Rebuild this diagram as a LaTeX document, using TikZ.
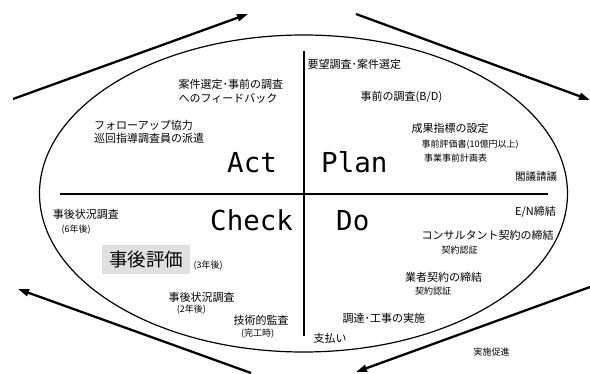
\documentclass[tikz,border=0pt]{standalone}
\usepackage{fontspec}
\newfontfamily\jpfont{Noto Sans CJK JP}
\newfontfamily\bigfont{DejaVu Sans Mono}
\usetikzlibrary{shapes.geometric,arrows.meta}
\definecolor{boxgray}{HTML}{E0E0E0}
\tikzset{
  jt/.style={font=\jpfont\fontsize{11}{13}\selectfont, inner sep=0pt, anchor=west},
  js/.style={font=\jpfont\fontsize{9}{11}\selectfont, inner sep=0pt, anchor=west},
  pdca/.style={font=\bigfont\fontsize{27.5}{30}\selectfont, inner sep=0pt, anchor=base west},
  flow/.style={line width=2.3pt, -{Triangle[length=11pt,width=7pt]}},
  axis/.style={line width=1.4pt},
  cyc/.style={draw, ellipse, line width=1.2pt, minimum width=528pt, minimum height=317pt, inner sep=0pt}
}
\begin{document}
\begin{tikzpicture}[x=1pt,y=-1pt]
\useasboundingbox (0,0) rectangle (590,374);
% cycle ellipse
\node[cyc] (cycle) at (303.5,193.5) {};
% axes
\coordinate (vt) at (304,51);
\coordinate (vb) at (304,336);
\coordinate (hl) at (60,194);
\coordinate (hr) at (548,194);
\draw[axis] (vt) -- (vb);
\draw[axis] (hl) -- (hr);
% outer arrows
\coordinate (a1s) at (13,99);
\coordinate (a1e) at (248,14);
\coordinate (a2s) at (356,14);
\coordinate (a2e) at (590,100);
\coordinate (a3s) at (590,287);
\coordinate (a3e) at (356,372);
\coordinate (a4s) at (251,373);
\coordinate (a4e) at (18,289);
\draw[flow] (a1s) -- (a1e);
\draw[flow] (a2s) -- (a2e);
\draw[flow] (a3s) -- (a3e);
\draw[flow] (a4s) -- (a4e);
% PDCA labels
\node[pdca] (act) at (227,173) {Act};
\node[pdca] (plan) at (321,173) {Plan};
\node[pdca] (check) at (210,230.5) {Check};
\node[pdca] (do) at (336,230.5) {Do};
% Act quadrant
\node[jt] (fb1) at (178.5,84) {案件選定･事前の調査};
\node[jt] (fb2) at (178.5,98) {へのフィードバック};
\node[jt] (fu1) at (94,125) {フォローアップ協力};
\node[jt] (fu2) at (94,138) {巡回指導調査員の派遣};
% Plan quadrant
\node[jt] (yb) at (307.5,64) {要望調査･案件選定};
\node[jt] (jz) at (360.5,97) {事前の調査(B/D)};
\node[jt] (sk) at (411.5,128.5) {成果指標の設定};
\node[js] (hy) at (421.5,144.3) {事前評価書(10億円以上)};
\node[js] (kk) at (424,158) {事業事前計画表};
\node[js, font=\jpfont\fontsize{10.5}{12}\selectfont] (kg) at (515,177) {閣議請議};
% Do quadrant
\node[jt] (en) at (515,212) {E/N締結};
\node[jt] (cs) at (421.5,235) {コンサルタント契約の締結};
\node[js] (nk1) at (441.5,250) {契約認証};
\node[jt] (gs) at (405,277) {業者契約の締結};
\node[js] (nk2) at (415,291) {契約認証};
\node[jt] (ch) at (342.5,318.5) {調達･工事の実施};
\node[jt] (sh) at (313.5,338.5) {支払い};
\node[js] (ss) at (473.5,352) {実施促進};
% Check quadrant
\node[jt] (jj6) at (52.7,214) {事後状況調査};
\node[js] (y6) at (61.5,229.3) {(6年後)};
\node[fill=boxgray, minimum width=88pt, minimum height=29.5pt, inner sep=0pt] (hyka) at (146,259.5) {\jpfont\fontsize{18.5}{20}\selectfont 事後評価};
\node[js] (y3) at (193.3,265.7) {(3年後)};
\node[jt] (jj2) at (168.3,297) {事後状況調査};
\node[js] (y2) at (176.7,310) {(2年後)};
\node[jt] (gk) at (233.3,320) {技術的監査};
\node[js] (kj) at (241,334) {(完工時)};
\end{tikzpicture}
\end{document}
